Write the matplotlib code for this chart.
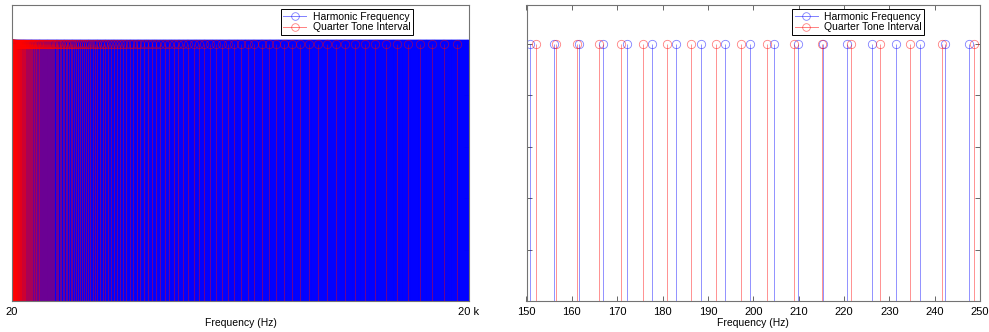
import matplotlib
matplotlib.use("Agg")
import matplotlib.pyplot as plt
import numpy as np

plt.rcParams['font.family'] = ['Liberation Sans', 'DejaVu Sans']
plt.rcParams['font.size'] = 7.3

# Harmonics are FFT bin centres (44.1 kHz / 8192 ~ 5.383 Hz spacing)
bin_hz = 44100 / 8192
harmonic_index = np.arange(4, 3716)
harmonic_hz = harmonic_index * bin_hz

# Quarter tones: ratio 2^(1/24), lowest one read as ~20.15 Hz (152.2 Hz in the zoom panel)
quarter_tone_start_hz = 20.15
quarter_tone_index = np.arange(0, 239)
quarter_tone_hz = quarter_tone_start_hz * 2 ** (quarter_tone_index / 24)

left_ticks = [20, 20000]
left_tick_labels = ['20', '20 k']
right_ticks = [150, 160, 170, 180, 190, 200, 210, 220, 230, 240, 250]

blue = (0, 0, 1)
red = (1, 0, 0)

fig = plt.figure(figsize=(9.89, 3.32), dpi=100)
ax1 = fig.add_axes([12 / 989, 31 / 332, 457 / 989, 296 / 332])
ax2 = fig.add_axes([526.5 / 989, 31 / 332, 453.5 / 989, 296 / 332])


def draw_stems(ax, freqs, color, label):
    ax.vlines(freqs, 0, 1, colors=[color], linewidth=0.6, alpha=0.5)
    ax.plot(freqs, np.ones_like(freqs), linestyle='none', marker='o',
            markersize=6, markerfacecolor='none', markeredgecolor=color,
            markeredgewidth=0.6, alpha=0.5)
    # legend proxy
    ax.plot([], [], color=color, marker='o', markersize=5.5, markerfacecolor='none',
            linewidth=0.7, markeredgewidth=0.6, alpha=0.5, label=label)


for ax in (ax1, ax2):
    draw_stems(ax, harmonic_hz, blue, 'Harmonic Frequency')
    draw_stems(ax, quarter_tone_hz, red, 'Quarter Tone Interval')
    ax.set_ylim(0, 1.15)
    ax.set_yticks([0, 0.2, 0.4, 0.6, 0.8, 1.0])
    ax.set_yticklabels([])
    ax.tick_params(direction='in', top=True, right=True, length=3.5, width=0.6,
                   color='0.3', labelsize=8, pad=4)
    for s in ax.spines.values():
        s.set_color('0.45')
        s.set_linewidth(0.8)
    ax.set_xlabel('Frequency (Hz)', labelpad=1, fontsize=7.5)
    leg = ax.legend(loc='upper right', bbox_to_anchor=(0.877, 0.986), fancybox=False,
                    edgecolor='black', framealpha=1, handlelength=2.2,
                    borderpad=0.25, labelspacing=0.05, handletextpad=0.6,
                    borderaxespad=0, fontsize=7.5)
    leg.get_frame().set_linewidth(0.7)

ax1.set_xlim(20, 20000)
ax1.set_xticks(left_ticks)
ax1.set_xticklabels(left_tick_labels)

ax2.set_xlim(150, 250)
ax2.set_xticks(right_ticks)

fig.savefig('out.png', dpi=100)
